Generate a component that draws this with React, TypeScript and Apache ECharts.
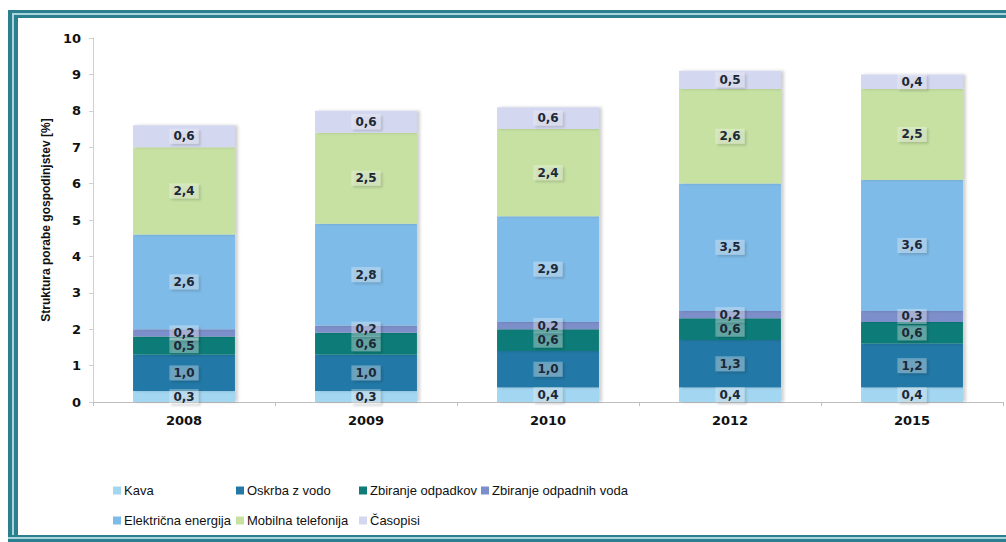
import React, { useEffect, useRef } from "react";
import * as echarts from "echarts";

const categories = ["2008", "2009", "2010", "2012", "2015"];
const kava = [0.3, 0.3, 0.4, 0.4, 0.4];
const oskrba = [1.0, 1.0, 1.0, 1.3, 1.2];
const odpadki = [0.5, 0.6, 0.6, 0.6, 0.6];
const odpadneVode = [0.2, 0.2, 0.2, 0.2, 0.3];
const elektrika = [2.6, 2.8, 2.9, 3.5, 3.6];
const mobilna = [2.4, 2.5, 2.4, 2.6, 2.5];
const casopisi = [0.6, 0.6, 0.6, 0.5, 0.4];

const seriesNames = [
  "Kava",
  "Oskrba z vodo",
  "Zbiranje odpadkov",
  "Zbiranje odpadnih voda",
  "Električna energija",
  "Mobilna telefonija",
  "Časopisi",
];
const seriesData = [kava, oskrba, odpadki, odpadneVode, elektrika, mobilna, casopisi];
const colors = ["#a3d6f1", "#2478a6", "#0f7c78", "#7d8fca", "#7fbbe8", "#c6e1a2", "#d3d7ef"];

const LEGEND_FONT = "'Liberation Sans', Arial, sans-serif";
const BOLD = "'DejaVu Sans', Verdana, sans-serif";

export default function App() {
  const ref = useRef<HTMLDivElement>(null);
  useEffect(() => {
    if (!ref.current) return;
    const chart = echarts.init(ref.current, null, { renderer: "svg" });
    const dark = "#2b7f8e";
    const light = "#a9d6dc";
    const legendCols = [113, 236, 359, 481];
    const legendRows = [484, 514];
    const legends = seriesNames.map((name, i) => ({
      data: [name],
      left: legendCols[i % 4],
      top: legendRows[Math.floor(i / 4)],
      itemWidth: 8,
      itemHeight: 8,
      itemGap: 0,
      padding: 0,
      icon: "rect",
      textStyle: { fontFamily: LEGEND_FONT, fontSize: 13, color: "#111", padding: [0, 0, 0, -2] },
    }));
    chart.setOption({
      animation: false,
      backgroundColor: "#ffffff",
      color: colors,
      grid: { left: 93, right: 3, top: 38, bottom: 140, containLabel: false },
      xAxis: {
        type: "category",
        data: categories,
        axisLine: { lineStyle: { color: "#bfbfbf" } },
        axisTick: { show: true, length: 4, lineStyle: { color: "#bfbfbf" } },
        axisLabel: {
          color: "#111",
          fontFamily: BOLD,
          fontWeight: "bold",
          fontSize: 13,
          margin: 12,
        },
      },
      yAxis: {
        type: "value",
        min: 0,
        max: 10,
        interval: 1,
        name: "Struktura porabe gospodinjstev [%]",
        nameLocation: "middle",
        nameGap: 40,
        nameTextStyle: { fontFamily: LEGEND_FONT, fontSize: 12, color: "#111", fontWeight: "bold" },
        axisLine: { show: true, lineStyle: { color: "#cfcfcf" } },
        axisTick: { show: true, length: 4, lineStyle: { color: "#cfcfcf" } },
        splitLine: { show: false },
        axisLabel: {
          color: "#111",
          fontFamily: BOLD,
          fontWeight: "bold",
          fontSize: 13,
          margin: 12,
        },
      },
      legend: legends,
      series: seriesNames.map((name, i) => ({
        name,
        type: "bar",
        stack: "total",
        barWidth: "56%",
        data: seriesData[i],
        itemStyle: {
          color: colors[i],
          shadowColor: "rgba(0,0,0,0.18)",
          shadowOffsetX: 3,
          shadowBlur: 3,
        },
        label: {
          show: true,
          position: "inside",
          formatter: (p: any) => Number(p.value).toFixed(1).replace(".", ","),
          fontFamily: BOLD,
          fontWeight: "bold",
          fontSize: 12,
          color: "#1b2838",
          backgroundColor: "rgba(255,255,255,0.3)",
          padding: [2, 4, 1, 4],
          shadowColor: "rgba(0,0,0,0.45)",
          shadowOffsetX: 2,
          shadowOffsetY: 2,
          shadowBlur: 2,
        },
      })),
      graphic: [
        { type: "rect", shape: { x: 8, y: 10, width: 998, height: 3 }, style: { fill: dark }, silent: true },
        { type: "rect", shape: { x: 8, y: 13, width: 998, height: 2 }, style: { fill: light }, silent: true },
        { type: "rect", shape: { x: 8, y: 15, width: 998, height: 3 }, style: { fill: dark }, silent: true },
        { type: "rect", shape: { x: 8, y: 10, width: 4, height: 532 }, style: { fill: dark }, silent: true },
        { type: "rect", shape: { x: 12, y: 13, width: 2, height: 529 }, style: { fill: light }, silent: true },
        { type: "rect", shape: { x: 14, y: 15, width: 4, height: 527 }, style: { fill: dark }, silent: true },
        { type: "rect", shape: { x: 8, y: 535, width: 998, height: 2 }, style: { fill: dark }, silent: true },
        { type: "rect", shape: { x: 8, y: 537, width: 998, height: 2 }, style: { fill: light }, silent: true },
        { type: "rect", shape: { x: 8, y: 539, width: 998, height: 3 }, style: { fill: dark }, silent: true },
      ],
    });
    return () => chart.dispose();
  }, []);
  return (
    <div
      ref={ref}
      style={{ position: "absolute", left: 0, top: 0, width: 1006, height: 542 }}
    />
  );
}
